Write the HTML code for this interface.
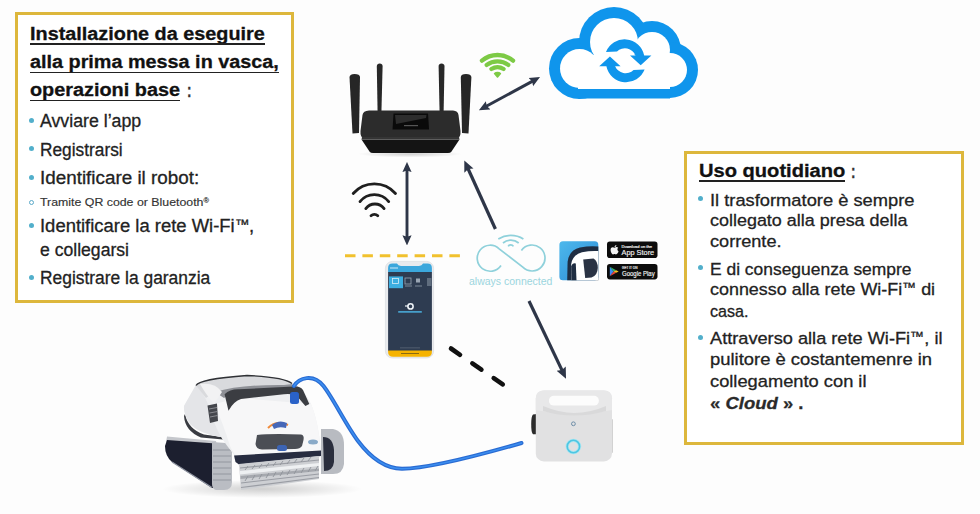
<!DOCTYPE html>
<html><head><meta charset="utf-8"><style>
html,body{margin:0;padding:0;}
body{width:980px;height:514px;overflow:hidden;background:#fdfdfd;position:relative;font-family:"Liberation Sans",sans-serif;}
.box{position:absolute;border:3px solid #DDB73C;box-sizing:border-box;background:#fff;}
.t{position:absolute;white-space:nowrap;line-height:1;transform-origin:0 0;-webkit-text-stroke:0.3px currentColor;}
.ul{position:absolute;height:1.8px;background:#222;}
.bu{position:absolute;width:5px;height:5px;border-radius:50%;background:#52AFCB;}
.bo{position:absolute;width:3px;height:3px;border-radius:50%;border:1px solid #5aa9c8;}
svg{position:absolute;left:0;top:0;}
</style></head><body>
<div class="box" style="left:14.8px;top:12.4px;width:278.8px;height:291px"></div>
<div class="box" style="left:684.3px;top:151.3px;width:279.7px;height:293.7px"></div>
<svg width="980" height="514" viewBox="0 0 980 514">
<defs>
  <marker id="ah" viewBox="0 0 10 10" refX="5" refY="5" markerWidth="3.5" markerHeight="3.5" orient="auto-start-reverse">
    <path d="M0,0.5 L10,5 L0,9.5 L1.5,5 z" fill="#2E3648"/>
  </marker>
  <linearGradient id="appg" x1="0" y1="0" x2="1" y2="1">
    <stop offset="0" stop-color="#4DB8EC"/><stop offset="1" stop-color="#2C8AD6"/>
  </linearGradient>
  <radialGradient id="shadow" cx="0.5" cy="0.5" r="0.5">
    <stop offset="0" stop-color="#000" stop-opacity="0.18"/><stop offset="1" stop-color="#000" stop-opacity="0"/>
  </radialGradient>
  <linearGradient id="bodyg" x1="0" y1="0" x2="0" y2="1">
    <stop offset="0" stop-color="#f4f4f4"/><stop offset="1" stop-color="#d8d9dc"/>
  </linearGradient>
</defs>

<!-- ROUTER -->
<g id="router">
  <ellipse cx="410" cy="154" rx="52" ry="3.5" fill="url(#shadow)"/>
  <path d="M349.5,77 Q350,74 354.5,74 Q359.8,74 360,77 L359,133 L352.5,133.5 Z" fill="#262626"/>
  <path d="M376.8,66 Q377,63.5 379.7,63.5 Q382.5,63.5 382.6,66 L381.4,113 L377.6,113 Z" fill="#282828"/>
  <path d="M438.6,66 Q438.8,63.5 441.5,63.5 Q444.3,63.5 444.5,66 L443.6,113 L439.6,113 Z" fill="#282828"/>
  <path d="M460.8,77 Q461,74 466,74 Q471,74 471.4,77 L468.5,133.5 L462,133 Z" fill="#262626"/>
  <path d="M369,110.5 L453,110.5 Q458,110.8 458.5,115 L460.5,131 Q461,137 457,139 L364,139 Q360,137 360.5,131 L362.5,115 Q363,110.8 369,110.5 Z" fill="#2c2c2c"/>
  <path d="M361.5,139.5 L459.5,139.5 L451.5,151.5 Q450.5,153 448,153 L373,153 Q370.5,153 369.5,151.5 Z" fill="#141414"/>
  <path d="M362,137 L459,137 L459.5,139.5 L361.5,139.5 Z" fill="#353535"/>
  <path d="M393.5,113.5 L428,113.5 L429,129.5 L392.5,129.5 Z" fill="#0a0a0a"/>
  <path d="M395,115 L426.5,115 L426,118 L396,124 Z" fill="#4a4a4a" opacity="0.55"/>
  <rect x="404" y="125" width="14" height="1.2" fill="#555"/>
</g>

<!-- green wifi -->
<g stroke="#7DCA45" stroke-width="4.3" fill="none" stroke-linecap="round">
<path d="M481.94,60.66 A24.2,24.2 0 0 1 513.06,60.66"/><path d="M486.73,64.90 A17.9,17.9 0 0 1 508.27,64.90"/><path d="M491.37,69.00 A11.9,11.9 0 0 1 503.63,69.00"/>
</g>
<path d="M497.5,77 L494.6,73.6 A4.2,4.2 0 0 1 500.4,73.6 Z" fill="#7DCA45" stroke="#7DCA45" stroke-width="1.6" stroke-linejoin="round"/>

<!-- arrow router-cloud -->
<line x1="483.5" y1="107.8" x2="535.4" y2="79.6" stroke="#2E3648" stroke-width="3" marker-start="url(#ah)" marker-end="url(#ah)"/>

<!-- CLOUD -->
<g fill="#0F95EC">
  <circle cx="579.5" cy="68.5" r="30.5"/>
  <circle cx="614" cy="42" r="35"/>
  <circle cx="652" cy="50" r="29"/>
  <circle cx="670" cy="70" r="28"/>
  <rect x="578" y="60" width="92" height="38.5"/>
</g>
<g fill="#fff">
  <circle cx="579.5" cy="68.5" r="19.5"/>
  <circle cx="614" cy="42" r="24"/>
  <circle cx="652" cy="50" r="18"/>
  <circle cx="670" cy="70" r="17"/>
  <rect x="578" y="55" width="92" height="34"/>
</g>
<g fill="#0F95EC">
  <path d="M606,52 A20,20 0 0 1 644.2,55.4 L651.4,55.4 L640.7,65.2 L630,55.4 L635.5,55.4 A11.5,11.5 0 0 0 617,51.5 Z"/>
  <path d="M606,52 A20,20 0 0 1 644.2,55.4 L651.4,55.4 L640.7,65.2 L630,55.4 L635.5,55.4 A11.5,11.5 0 0 0 617,51.5 Z" transform="rotate(180 625.3 60.8)"/>
</g>

<!-- black wifi -->
<g stroke="#1f1f1f" stroke-width="2.8" fill="none" stroke-linecap="round">
  <path d="M353.2,193.5 A28,28 0 0 1 395.5,193.5"/>
  <path d="M360,201.6 A18.2,18.2 0 0 1 388.7,201.6"/>
  <path d="M365.8,208.6 A11.4,11.4 0 0 1 384.1,208.6"/>
  <path d="M371,215.8 A4.8,4.8 0 0 1 377.8,215.8"/>
</g>

<!-- vertical arrow -->
<line x1="407" y1="167" x2="407" y2="240.4" stroke="#2E3648" stroke-width="2.9" marker-start="url(#ah)" marker-end="url(#ah)"/>

<!-- yellow dashed line -->
<line x1="345" y1="255.7" x2="461" y2="255.7" stroke="#F1C12E" stroke-width="3" stroke-dasharray="10.5 6.9"/>

<!-- PHONE -->
<g id="phone">
  <rect x="385.4" y="261.4" width="48.2" height="96.6" rx="7" fill="#e9ebee"/>
  <rect x="385.4" y="261.4" width="48.2" height="96.6" rx="7" fill="none" stroke="#d5d8dc" stroke-width="0.6"/>
  <path d="M388.1,268 Q388.1,263.6 392.5,263.6 L397,263.6 Q398,266 401,266 L419,266 Q422,266 423,263.6 L427.5,263.6 Q431.9,263.6 431.9,268 L431.9,272.5 L388.1,272.5 Z" fill="#3BA7DC"/>
  <path d="M388.1,272 L431.9,272 L431.9,351 L388.1,351 Z" fill="#2E3C51"/>
  <rect x="389" y="276.4" width="14" height="11.8" fill="#3DAEE0"/>
  <rect x="392.5" y="278.5" width="6" height="5" fill="none" stroke="#d8eef8" stroke-width="0.8"/>
  <rect x="405" y="278" width="6" height="6" fill="none" stroke="#9aa6b4" stroke-width="0.8"/>
  <rect x="405" y="285.5" width="7" height="1" fill="#7d8a99"/>
  <rect x="416" y="278.5" width="4" height="4" fill="#9aa6b4"/>
  <rect x="415" y="285.5" width="7" height="1" fill="#7d8a99"/>
  <rect x="427" y="278" width="4.5" height="8" fill="#5f6d7e"/>
  <rect x="390" y="267.5" width="8" height="1" fill="#cfe9f6"/>
  <circle cx="410.5" cy="306.4" r="2.6" fill="none" stroke="#eef3f8" stroke-width="1.6"/>
  <path d="M405,306 L408,306" stroke="#eef3f8" stroke-width="1.2"/>
  <rect x="398.2" y="311.2" width="23.6" height="1.4" fill="#4DB8E8"/>
  <rect x="400" y="347.5" width="20" height="0.8" fill="#5a6678"/>
  <path d="M388.1,350.4 L431.9,350.4 L431.9,352 Q431.9,356.8 427,356.8 L393,356.8 Q388.1,356.8 388.1,352 Z" fill="#F5B301"/>
  <rect x="401" y="353" width="18" height="1" fill="#8a6a10"/>
</g>

<!-- arrow always connected -> router -->
<line x1="495.4" y1="229" x2="466.6" y2="165.5" stroke="#2E3648" stroke-width="3.2" marker-end="url(#ah)"/>

<!-- always connected logo -->
<g fill="none" stroke="#8FD1DB" stroke-width="1.7">
  <path d="M501,265.5 A13,13 0 1 1 499.2,248.8 L522.8,267.2 A13,13 0 1 0 521.4,250.5"/>
  <path d="M498.3,239 A24,24 0 0 1 523.4,239"/>
  <path d="M503,243 A12,12 0 0 1 518.7,243"/>
  <path d="M508.2,246.4 A3,3 0 0 1 513.4,246.4"/>
</g>
<text x="469" y="285" font-family="Liberation Sans" font-size="11.4" fill="#9BD5DE" textLength="83.4" lengthAdjust="spacingAndGlyphs">always connected</text>

<!-- app icon -->
<rect x="559.4" y="241.3" width="38.9" height="38.9" rx="3.5" fill="url(#appg)"/>
<path d="M567.2,280.2 L567.6,262 Q569,250 580,247.5 Q590,245.5 598.3,246.5 L598.3,280.2 Z" fill="#1f2d42"/>
<path d="M571.5,280.2 L571.2,264 Q572.5,255 582,252.3 Q590,250.5 598.3,251 L598.3,280.2 Z" fill="#ffffff"/>
<path d="M571.2,266.5 Q572.5,262.5 575.8,263.5 L576.5,280.2 L571.5,280.2 Z" fill="#1f2d42"/>
<path d="M583.2,259.5 L593.5,258.5 Q597.8,261 597.8,268 Q597.5,275.5 591.5,277.6 L585.2,278 Z" fill="#2a3344"/>

<!-- badges -->
<rect x="607" y="241.6" width="50.5" height="16.4" rx="2.8" fill="#0c0c0c"/>
<rect x="607" y="264" width="50.5" height="15.4" rx="2.8" fill="#0c0c0c"/>
<g font-family="Liberation Sans" fill="#f4f4f4" stroke="#f4f4f4" stroke-width="0.15">
<text x="621.5" y="247.8" font-size="3.3" textLength="30.4" lengthAdjust="spacingAndGlyphs">Download on the</text>
<text x="621.5" y="254.5" font-size="7.6" textLength="32.7" lengthAdjust="spacingAndGlyphs">App Store</text>
<text x="622" y="269.3" font-size="3.2" textLength="15.4" lengthAdjust="spacingAndGlyphs">GET IT ON</text>
<text x="622" y="276" font-size="7.2" textLength="32.7" lengthAdjust="spacingAndGlyphs">Google Play</text>
</g>
<path d="M614.5,247.8 C613,246.8 610.8,247 610.6,249.6 C610.4,252.2 612,254.6 613.2,254.4 C613.8,254.3 614.2,254.1 614.5,254.1 C614.8,254.1 615.2,254.3 615.8,254.4 C617,254.6 618.4,252.4 618.5,251.3 C617.2,250.6 617,248.3 618.2,247.7 C617.4,246.7 615.8,246.8 614.5,247.8 Z M614.6,247.1 C614.5,245.9 615.4,245 616.4,244.9 C616.5,246.1 615.6,247 614.6,247.1 Z" fill="#f4f4f4"/>
<path d="M609.8,266.8 L613.6,271.5 L609.8,276.2 Z" fill="#3d8af2"/>
<path d="M609.8,266.8 L616.2,270.2 L613.6,271.5 Z" fill="#34b36a"/>
<path d="M609.8,276.2 L616.2,272.8 L613.6,271.5 Z" fill="#e8453c"/>
<path d="M616.2,270.2 L618.7,271.5 L616.2,272.8 L613.6,271.5 Z" fill="#f6c026"/>

<!-- black dashed line -->
<line x1="451" y1="348.5" x2="504" y2="385.3" stroke="#111" stroke-width="4.6" stroke-linecap="round" stroke-dasharray="11 15"/>

<!-- arrow to power supply -->
<line x1="529" y1="301" x2="563.6" y2="373.6" stroke="#2E3648" stroke-width="3.2" marker-end="url(#ah)"/>

<!-- POWER SUPPLY -->
<g id="psu">
  <path d="M537,414 L533,414.5 Q531.2,416 531.2,424 Q531.2,433 533,434.3 L537,434.3 Z" fill="#2b2b2b"/>
  <rect x="609" y="419" width="4" height="34" rx="1" fill="#d2d2d2"/>
  <rect x="535.8" y="390.5" width="76.2" height="70.9" rx="8" fill="#E1E1E2"/>
  <path d="M543.8,390.5 L604,390.5 Q612,390.5 612,398.5 L612,410 Q590,414 574,414 Q556,414 535.8,410 L535.8,398.5 Q535.8,390.5 543.8,390.5 Z" fill="#e8e8e9"/>
  <path d="M543,406 Q560,413 574,413 Q590,413 606,406 L606,411 Q590,415.5 574,415.5 Q558,415.5 543,411 Z" fill="#d9d9da"/>
  <rect x="548.9" y="395.8" width="50" height="9.8" rx="4.9" fill="#fcfcfc"/>
  <circle cx="573.4" cy="423.8" r="1.9" fill="none" stroke="#6e8ea8" stroke-width="1"/>
  <circle cx="573.4" cy="446.5" r="6.2" fill="none" stroke="#a8e6f2" stroke-width="3.2"/>
  <circle cx="573.4" cy="446.5" r="6.2" fill="none" stroke="#4fc6e2" stroke-width="1.6"/>
</g>

<!-- ROBOT -->
<g id="robot">
  <ellipse cx="262" cy="489" rx="100" ry="9" fill="url(#shadow)"/>
  <!-- left shell lower dark edge -->
  <path d="M185,414 Q188,429 204,434.5 L222,437 L223,439.5 L201,437.5 Q185,431 184,416 Z" fill="#3a3c42"/>
  <!-- left track rim -->
  <path d="M167,436.5 L216,441 L217,446 L166,442 Z" fill="#c5c7cc"/>
  <!-- left track dark panel -->
  <path d="M167,440 L216,443.5 L218,488 L212,488 L172,462 Q165,456 165,446 Z" fill="#1c1f2f"/>
  <path d="M172,462 L212,487.5" stroke="#8e93a0" stroke-width="1.2"/>
  <!-- left tread -->
  <path d="M212,442 L226,443 Q232,445 232,452 L232,482 Q232,490 224,490 L216,490 Q212,489 212,484 Z" fill="#babdc3"/>
  <g stroke="#8f939b" stroke-width="0.9">
    <line x1="213" y1="450" x2="231" y2="450"/><line x1="213" y1="456" x2="231" y2="456"/>
    <line x1="213" y1="462" x2="231" y2="462"/><line x1="213" y1="468" x2="231" y2="468"/>
    <line x1="213" y1="474" x2="231" y2="474"/><line x1="213" y1="480" x2="231" y2="480"/>
  </g>
  <!-- right track -->
  <path d="M321,429 L333,429 Q344,431 344,445 L344,464 Q343,474 333,474 L321,474 Z" fill="#b8bbc1"/>
  <path d="M323,437 Q333,437 334,450 L334,462 Q333,471 324,471 Z" fill="#2a2e3d"/>
  <!-- white shell -->
  <path d="M196,385 Q200,378 247,375.5 Q285,377 294,384 Q304,389 311,404 Q318,420 321,451 L236,457 Q226,445 221,437 Q200,434 190,424 Q183,413 184,406 Z" fill="#eeeff1"/>
  <path d="M196,385 L184,406 Q183,413 190,424 Q200,434 221,437 Q212,420 208,404 Q203,392 196,385 Z" fill="#e4e5e8"/>
  <path d="M214,404 Q222,420 230,446 Q234,455 238,457 L321,452 Q318,420 311,404 L240,398 Z" fill="#f7f7f8"/>
  <!-- top grey lid -->
  <path d="M196,385.5 Q199,379 247,375.5 Q284,377 292,383.5 L284,387 Q250,386 224,391 Q210,394 206,398 Z" fill="#d9dadd"/>
  <path d="M215,392 Q240,384.5 284,385 L292,384 L296,389 Q260,388.5 238,392 Q228,395 224,398 Z" fill="#8e9096"/>
  <path d="M196,385.5 Q199,379 247,375.5 Q284,377 292,383.5" fill="none" stroke="#2f3135" stroke-width="1.3"/>
  <path d="M200,384 Q215,382 222,392 L214,404 Q205,393 200,384 Z" fill="#f2f2f3"/>
  <!-- dark handle -->
  <path d="M224.6,394.2 Q230,389 239,389.3 L293.7,386.4 Q300,386 303,390 L309.3,404 L305.4,406 L296,395 Q290,393.5 284,394.2 L241,399 Q234,401 228.5,410.7 Z" fill="#3b3d42"/>
  <!-- vents -->
  <path d="M207.5,405.5 L217,403.5 L218,421 L210,423 Z" fill="#44464c"/>
  <g stroke="#9a9ca2" stroke-width="0.8"><line x1="209" y1="409" x2="217" y2="407.5"/><line x1="209.5" y1="413" x2="217.5" y2="411.5"/><line x1="210" y1="417" x2="217.5" y2="415.5"/></g>
  <!-- logo -->
  <path d="M268,428 Q276,420 288,425" fill="none" stroke="#f08a3a" stroke-width="2"/>
  <path d="M272,425 Q279,419 287,423 L286,428 Q279,426 274,429 Z" fill="#4667b8"/>
  <!-- dark slot -->
  <path d="M257,435 Q270,433.5 301,434.5 Q304.5,435 303.5,440 L302,446 Q300,449 295,449 L262,449.5 Q256,449 255.5,444 Z" fill="#4b4e55"/>
  <rect x="277" y="445" width="10" height="6" rx="2.5" fill="#3c64b4"/>
  <ellipse cx="313" cy="442" rx="5" ry="2.5" fill="#8aaac8"/>
  <!-- blue connector -->
  <rect x="290" y="392" width="9" height="12" rx="2.5" fill="#2a62c8"/>
  <!-- navy band -->
  <path d="M234,455.5 L321,450.5 L321,456 L239,464.5 L235.5,462 Z" fill="#272c40"/>
  <!-- roller -->
  <path d="M239,464 L319,456 L319,479 L241,490 Z" fill="#cdcfd3"/>
  <path d="M240,471 L319,463 L319,466 L240,474.5 Z" fill="#eef0f2"/>
  <path d="M240.5,476 L319,468.5 L319,471 L240.5,479 Z" fill="#a5a8ae"/>
  <g stroke="#9a9da4" stroke-width="1.1" fill="none">
    <path d="M240,468 L319,460"/>
    <path d="M241,483 L319,474"/>
    <path d="M241,487.5 L319,477.5"/>
  </g>
  <g stroke="#8f939a" stroke-width="0.9" fill="none">
    <path d="M245,481 l3,-5 M252,480 l3,-5 M259,479 l3,-5 M266,478 l3,-5 M273,477 l3,-5 M280,476 l3,-5 M287,475 l3,-5 M294,474 l3,-5 M301,473 l3,-5 M308,472 l3,-5 M315,471 l3,-5"/>
    <path d="M245,470 l3,-4 M252,469 l3,-4 M259,468 l3,-4 M266,467 l3,-4 M273,466 l3,-4 M280,465 l3,-4 M287,464 l3,-4 M294,463 l3,-4 M301,462 l3,-4 M308,461 l3,-4"/>
  </g>
</g>

<!-- blue cable -->
<path d="M294,386 C299,378 313,373 323.5,386 C333,398 346,425 358,441 C370,457 385,468.5 402,468.8 C430,468.5 480,455 521.5,443" fill="none" stroke="#2a6bd2" stroke-width="4" stroke-linecap="round"/>
<path d="M294,386 C299,378 313,373 323.5,386 C333,398 346,425 358,441 C370,457 385,468.5 402,468.8 C430,468.5 480,455 521.5,443" fill="none" stroke="#3b8ef0" stroke-width="1.6" stroke-linecap="round"/>
</svg>

<div class="t" style="left:30.2px;top:25.39px;font-size:18.8px;font-weight:700;color:#111;transform:scaleX(1.0561);">Installazione da eseguire</div><div class="t" style="left:30.2px;top:53.39px;font-size:18.8px;font-weight:700;color:#111;transform:scaleX(1.0544);">alla prima messa in vasca,</div><div class="t" style="left:30.2px;top:81.49px;font-size:18.8px;font-weight:700;color:#111;transform:scaleX(1.0567);">operazioni base</div><div class="t" style="left:187.0px;top:81.32px;font-size:19px;font-weight:700;color:#333;transform:scaleX(0.7111);">:</div><div class="t" style="left:39.8px;top:112.26px;font-size:18.0px;font-weight:400;color:#222;transform:scaleX(0.9851);">Avviare l’app</div><div class="t" style="left:39.8px;top:140.66px;font-size:18.0px;font-weight:400;color:#222;transform:scaleX(0.9613);">Registrarsi</div><div class="t" style="left:39.8px;top:169.46px;font-size:18.0px;font-weight:400;color:#222;transform:scaleX(1.0468);">Identificare il robot:</div><div class="t" style="left:39.8px;top:195.68px;font-size:11.6px;font-weight:400;color:#333;transform:scaleX(1.0643);-webkit-text-stroke:0.15px #333">Tramite QR code or Bluetooth<span style="font-size:60%;vertical-align:45%">®</span></div><div class="t" style="left:39.8px;top:217.46px;font-size:18.0px;font-weight:400;color:#222;transform:scaleX(1.0243);">Identificare la rete Wi-Fi<span style="font-size:78%;vertical-align:0.2em">™</span>,</div><div class="t" style="left:39.8px;top:240.86px;font-size:18.0px;font-weight:400;color:#222;transform:scaleX(0.9775);">e collegarsi</div><div class="t" style="left:39.8px;top:269.26px;font-size:18.0px;font-weight:400;color:#222;transform:scaleX(0.9665);">Registrare la garanzia</div><div class="t" style="left:698.7px;top:162.29px;font-size:18.8px;font-weight:700;color:#111;transform:scaleX(1.0704);">Uso quotidiano</div><div class="t" style="left:851.0px;top:162.12px;font-size:19px;font-weight:700;color:#333;transform:scaleX(0.7111);">:</div><div class="t" style="left:709.5px;top:191.77px;font-size:17.4px;font-weight:400;color:#222;transform:scaleX(1.0527);">Il trasformatore è sempre</div><div class="t" style="left:709.5px;top:212.27px;font-size:17.4px;font-weight:400;color:#222;transform:scaleX(1.0317);">collegato alla presa della</div><div class="t" style="left:709.5px;top:233.27px;font-size:17.4px;font-weight:400;color:#222;transform:scaleX(1.0417);">corrente.</div><div class="t" style="left:709.5px;top:260.57px;font-size:17.4px;font-weight:400;color:#222;transform:scaleX(1.0020);">E di conseguenza sempre</div><div class="t" style="left:709.5px;top:281.47px;font-size:17.4px;font-weight:400;color:#222;transform:scaleX(1.0303);">connesso alla rete Wi-Fi<span style="font-size:78%;vertical-align:0.2em">™</span> di</div><div class="t" style="left:709.5px;top:302.87px;font-size:17.4px;font-weight:400;color:#222;transform:scaleX(0.9260);">casa.</div><div class="t" style="left:709.5px;top:330.27px;font-size:17.4px;font-weight:400;color:#222;transform:scaleX(1.0458);">Attraverso alla rete Wi-Fi<span style="font-size:78%;vertical-align:0.2em">™</span>, il</div><div class="t" style="left:709.5px;top:351.47px;font-size:17.4px;font-weight:400;color:#222;transform:scaleX(1.0587);">pulitore è costantemenre in</div><div class="t" style="left:709.5px;top:372.97px;font-size:17.4px;font-weight:400;color:#222;transform:scaleX(1.0512);">collegamento con il</div><div class="t" style="left:709.5px;top:395.47px;font-size:17.4px;font-weight:700;color:#2a2a2a;transform:scaleX(1.0631);">« <i>Cloud</i> » .</div>
<div class="ul" style="left:29.6px;width:235.4px;top:43.3px"></div><div class="ul" style="left:29.6px;width:249.4px;top:71.6px"></div><div class="ul" style="left:29.6px;width:150.6px;top:99.6px"></div><div class="ul" style="left:698.7px;width:146.29999999999995px;top:179.9px"></div>
<div class="bu" style="left:29.1px;top:117.5px"></div><div class="bu" style="left:29.1px;top:146.0px"></div><div class="bu" style="left:29.1px;top:175.0px"></div><div class="bu" style="left:29.1px;top:223.0px"></div><div class="bu" style="left:29.1px;top:274.5px"></div><div class="bu" style="left:698.0px;top:195.8px"></div><div class="bu" style="left:698.0px;top:264.5px"></div><div class="bu" style="left:698.0px;top:334.5px"></div><div class="bo" style="left:29.3px;top:199.5px"></div>
</body></html>
